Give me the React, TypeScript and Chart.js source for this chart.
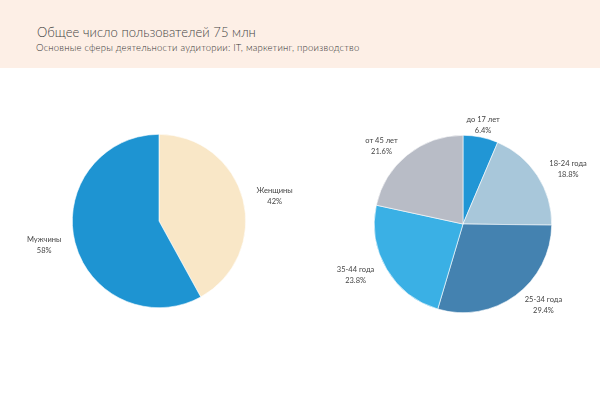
import React, { useEffect, useRef } from "react";
import { Chart, registerables } from "chart.js";

Chart.register(...registerables);

const genderLabels = ["Женщины", "Мужчины"];
const genderValues = [42, 58];
const genderColors = ["#f9e7c7", "#1e94d2"];

const ageLabels = ["до 17 лет", "18-24 года", "25-34 года", "35-44 года", "от 45 лет"];
const ageValues = [6.4, 18.8, 29.4, 23.8, 21.6];
const ageColors = ["#2196d5", "#a8c7da", "#4482b0", "#3ab0e5", "#b8bcc6"];

const FONT = "Lato, 'Open Sans', sans-serif";

const outerLabels = {
  id: "outerLabels",
  afterDraw(chart: any) {
    const ctx = chart.ctx;
    const meta = chart.getDatasetMeta(0);
    const ds = chart.data.datasets[0];
    ctx.save();
    ctx.font = `7.5px ${FONT}`;
    ctx.fillStyle = "#444";
    ctx.textAlign = "center";
    ctx.textBaseline = "middle";
    meta.data.forEach((arc: any, i: number) => {
      const p = arc.getProps(["x", "y", "startAngle", "endAngle", "outerRadius"], true);
      const mid = (p.startAngle + p.endAngle) / 2;
      const cx = Math.cos(mid);
      const cy = Math.sin(mid);
      const l1 = chart.data.labels[i];
      const l2 = ds.pctText[i];
      const w = Math.max(ctx.measureText(l1).width, ctx.measureText(l2).width);
      const d = p.outerRadius + 12;
      const shift = Math.abs(cx) > 0.3 ? Math.sign(cx) * (w / 2 + 2) : 0;
      const x = p.x + cx * d + shift;
      const y = p.y + cy * d;
      ctx.fillText(l1, x, y - 5.5);
      ctx.fillText(l2, x, y + 5.5);
    });
    ctx.restore();
  },
};

function PieCanvas(props: {
  labels: string[];
  values: number[];
  colors: string[];
  pct: string[];
  padding: { left: number; right: number; top: number; bottom: number };
  left: number;
}) {
  const ref = useRef<HTMLCanvasElement>(null);
  useEffect(() => {
    const chart = new Chart(ref.current!, {
      type: "pie",
      data: {
        labels: props.labels,
        datasets: [
          {
            data: props.values,
            backgroundColor: props.colors,
            borderColor: "#ffffff",
            borderWidth: 0.6,
            pctText: props.pct,
          } as any,
        ],
      },
      options: {
        animation: false,
        responsive: false,
        maintainAspectRatio: false,
        layout: { padding: props.padding },
        plugins: { legend: { display: false }, tooltip: { enabled: false } },
      },
      plugins: [outerLabels],
    });
    return () => chart.destroy();
  }, []);
  return (
    <canvas
      ref={ref}
      width={300}
      height={328}
      style={{ position: "absolute", left: props.left, top: 68, width: 300, height: 328 }}
    />
  );
}

export default function App() {
  useEffect(() => {
    document.body.style.margin = "0";
  }, []);
  return (
    <div style={{ position: "relative", width: 600, height: 396, background: "#fff", overflow: "hidden", fontFamily: FONT }}>
      <div style={{ position: "absolute", left: 0, top: 0, width: 600, height: 68, background: "#fdefe6" }} />
      <div style={{ position: "absolute", left: 37, top: 24, fontSize: 13, fontWeight: 300, color: "#444", whiteSpace: "nowrap", letterSpacing: 0.05 }}>
        Общее число пользователей 75 млн
      </div>
      <div style={{ position: "absolute", left: 36, top: 42, fontSize: 9.5, fontWeight: 300, color: "#333", whiteSpace: "nowrap", letterSpacing: 0.2 }}>
        Основные сферы деятельности аудитории: IT, маркетинг, производство
      </div>
      <PieCanvas
        labels={genderLabels}
        values={genderValues}
        colors={genderColors}
        pct={genderValues.map((v) => `${v}%`)}
        padding={{ left: 72, right: 54, top: 66, bottom: 88 }}
        left={0}
      />
      <PieCanvas
        labels={ageLabels}
        values={ageValues}
        colors={ageColors}
        pct={ageValues.map((v) => `${v.toFixed(1)}%`)}
        padding={{ left: 74, right: 48, top: 67, bottom: 83 }}
        left={300}
      />
    </div>
  );
}
